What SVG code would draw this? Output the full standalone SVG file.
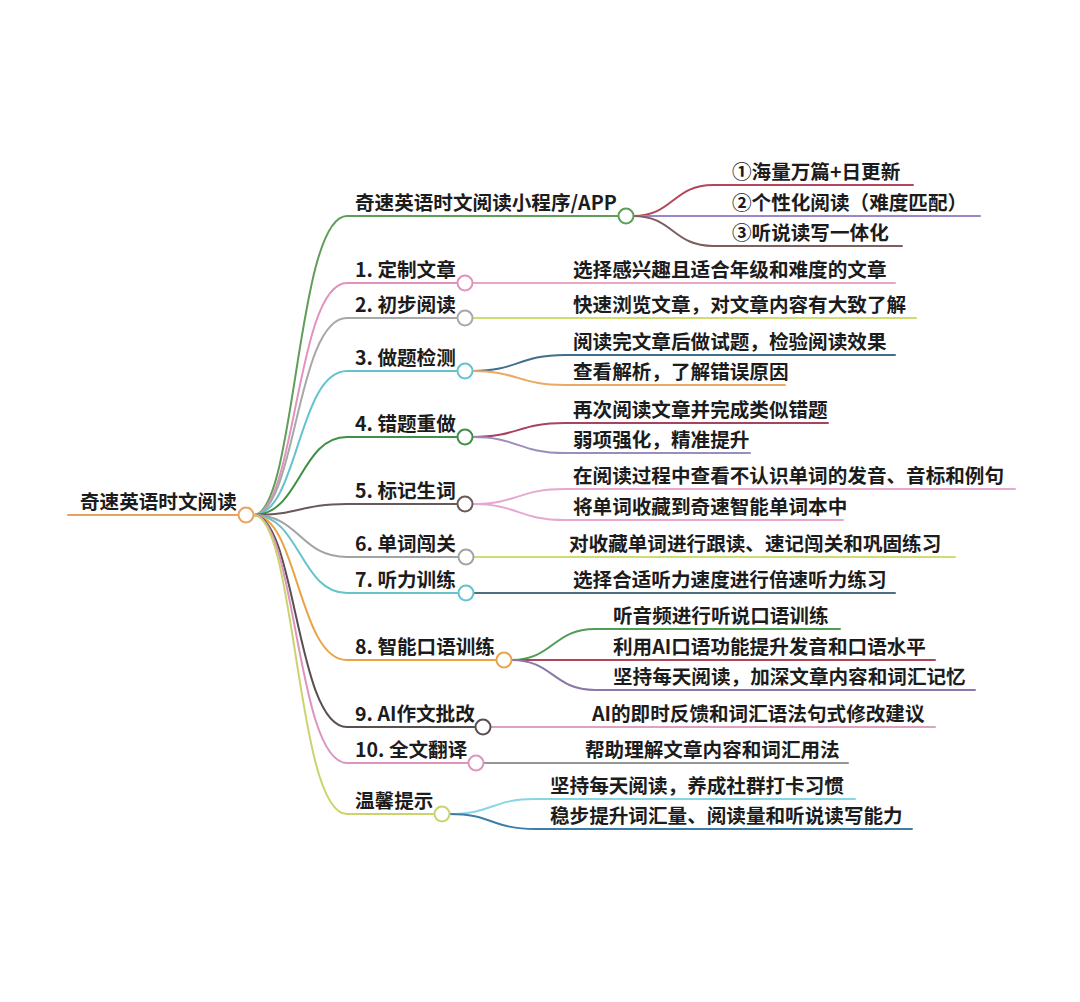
<svg xmlns="http://www.w3.org/2000/svg" width="1080" height="1002" viewBox="0 0 1080 1002">
<style>
text{font-family:"Noto Sans CJK SC","Noto Sans",sans-serif;font-size:19.6px;font-weight:700;fill:#1c1c1c}
path{fill:none;stroke-width:2;stroke-linecap:round}
circle{fill:#fff;stroke-width:2}
</style>
<rect width="1080" height="1002" fill="#fff"/>
<g id="connectors">
<path d="M68 515 H238.5" stroke="#e9a262"/>
<path d="M253.5 515 C296 515 296 216 347 216 H618.5" stroke="#5e9e58"/>
<path d="M633.5 216 C673 216 673 185 713 185 H913" stroke="#b4455a"/>
<path d="M633.5 216 H980" stroke="#9a86c8"/>
<path d="M633.5 216 C673 216 673 246 713 246 H902" stroke="#7d5e5e"/>
<path d="M253.5 515 C296 515 296 283 347 283 H457.5" stroke="#e391bd"/>
<path d="M472.5 283 H895" stroke="#e8a6c6"/>
<path d="M253.5 515 C296 515 296 318 347 318 H457.5" stroke="#a8a8a8"/>
<path d="M472.5 318 H916" stroke="#cfdc72"/>
<path d="M253.5 515 C298 515 298 371 347 371 H457.5" stroke="#64c3cf"/>
<path d="M472.5 371 C518 371 518 355 565 355 H895" stroke="#3f6f8c"/>
<path d="M472.5 371 C518 371 518 385 565 385 H785" stroke="#eaaa60"/>
<path d="M253.5 515 C300 515 300 437 347 437 H457.5" stroke="#3f8f45"/>
<path d="M472.5 437 C518 437 518 423 565 423 H828" stroke="#a8435e"/>
<path d="M472.5 437 C518 437 518 453 565 453 H750" stroke="#9a8ec0"/>
<path d="M253.5 515 C300 515 300 504 347 504 H457.5" stroke="#6b5858"/>
<path d="M472.5 504 C518 504 518 489 565 489 H1015" stroke="#e6a8d0"/>
<path d="M472.5 504 C518 504 518 520 565 520 H843" stroke="#e6a8d0"/>
<path d="M253.5 515 C300 515 300 557 347 557 H458.5" stroke="#a3a3a3"/>
<path d="M473.5 557 H955" stroke="#cfdc72"/>
<path d="M253.5 515 C300 515 300 593 347 593 H458.5" stroke="#66c2cc"/>
<path d="M473.5 593 H895" stroke="#4b6f7f"/>
<path d="M253.5 515 C298 515 298 660 347 660 H496.5" stroke="#e8a447"/>
<path d="M511.5 660 C553 660 553 629 595 629 H840" stroke="#4e9e55"/>
<path d="M511.5 660 H935" stroke="#b44458"/>
<path d="M511.5 660 C553 660 553 690 595 690 H975" stroke="#8a78a8"/>
<path d="M253.5 515 C296 515 296 727 347 727 H475.5" stroke="#585050"/>
<path d="M490.5 727 H935" stroke="#dba2c4"/>
<path d="M253.5 515 C296 515 296 763 347 763 H468.5" stroke="#dd95bf"/>
<path d="M483.5 763 H848" stroke="#959595"/>
<path d="M253.5 515 C296 515 296 814 347 814 H434.5" stroke="#cbd46c"/>
<path d="M449.5 814 C492 814 492 799 535 799 H855" stroke="#86d6e4"/>
<path d="M449.5 814 C492 814 492 829 535 829 H912" stroke="#3d7da6"/>
</g>
<g id="root"><text x="80" y="509">奇速英语时文阅读</text><circle cx="246" cy="515" r="7.5" stroke="#e9a262"/></g>
<g id="app"><text x="355" y="210">奇速英语时文阅读小程序/APP</text><circle cx="626" cy="216" r="7.5" stroke="#5e9e58"/></g>
<g id="app-1"><text x="732" y="179">①海量万篇+日更新</text></g>
<g id="app-2"><text x="732" y="210">②个性化阅读（难度匹配）</text></g>
<g id="app-3"><text x="732" y="240">③听说读写一体化</text></g>
<g id="n1"><text x="355" y="277">1. 定制文章</text><circle cx="465" cy="283" r="7.5" stroke="#e391bd"/></g>
<g id="n1-1"><text x="573" y="277">选择感兴趣且适合年级和难度的文章</text></g>
<g id="n2"><text x="355" y="312">2. 初步阅读</text><circle cx="465" cy="318" r="7.5" stroke="#a8a8a8"/></g>
<g id="n2-1"><text x="573" y="312">快速浏览文章，对文章内容有大致了解</text></g>
<g id="n3"><text x="355" y="365">3. 做题检测</text><circle cx="465" cy="371" r="7.5" stroke="#64c3cf"/></g>
<g id="n3-1"><text x="573" y="349">阅读完文章后做试题，检验阅读效果</text></g>
<g id="n3-2"><text x="573" y="379">查看解析，了解错误原因</text></g>
<g id="n4"><text x="355" y="431">4. 错题重做</text><circle cx="465" cy="437" r="7.5" stroke="#3f8f45"/></g>
<g id="n4-1"><text x="573" y="417">再次阅读文章并完成类似错题</text></g>
<g id="n4-2"><text x="573" y="447">弱项强化，精准提升</text></g>
<g id="n5"><text x="355" y="498">5. 标记生词</text><circle cx="465" cy="504" r="7.5" stroke="#6b5858"/></g>
<g id="n5-1"><text x="573" y="483">在阅读过程中查看不认识单词的发音、音标和例句</text></g>
<g id="n5-2"><text x="573" y="514">将单词收藏到奇速智能单词本中</text></g>
<g id="n6"><text x="355" y="551">6. 单词闯关</text><circle cx="466" cy="557" r="7.5" stroke="#a3a3a3"/></g>
<g id="n6-1"><text x="569" y="551">对收藏单词进行跟读、速记闯关和巩固练习</text></g>
<g id="n7"><text x="355" y="587">7. 听力训练</text><circle cx="466" cy="593" r="7.5" stroke="#66c2cc"/></g>
<g id="n7-1"><text x="573" y="587">选择合适听力速度进行倍速听力练习</text></g>
<g id="n8"><text x="355" y="654">8. 智能口语训练</text><circle cx="504" cy="660" r="7.5" stroke="#e8a447"/></g>
<g id="n8-1"><text x="613" y="623">听音频进行听说口语训练</text></g>
<g id="n8-2"><text x="613" y="654">利用AI口语功能提升发音和口语水平</text></g>
<g id="n8-3"><text x="613" y="684">坚持每天阅读，加深文章内容和词汇记忆</text></g>
<g id="n9"><text x="355" y="721">9. AI作文批改</text><circle cx="483" cy="727" r="7.5" stroke="#585050"/></g>
<g id="n9-1"><text x="592" y="721">AI的即时反馈和词汇语法句式修改建议</text></g>
<g id="n10"><text x="355" y="757">10. 全文翻译</text><circle cx="476" cy="763" r="7.5" stroke="#dd95bf"/></g>
<g id="n10-1"><text x="585" y="757">帮助理解文章内容和词汇用法</text></g>
<g id="tips"><text x="355" y="808">温馨提示</text><circle cx="442" cy="814" r="7.5" stroke="#cbd46c"/></g>
<g id="tips-1"><text x="550" y="793">坚持每天阅读，养成社群打卡习惯</text></g>
<g id="tips-2"><text x="550" y="823">稳步提升词汇量、阅读量和听说读写能力</text></g>
</svg>
